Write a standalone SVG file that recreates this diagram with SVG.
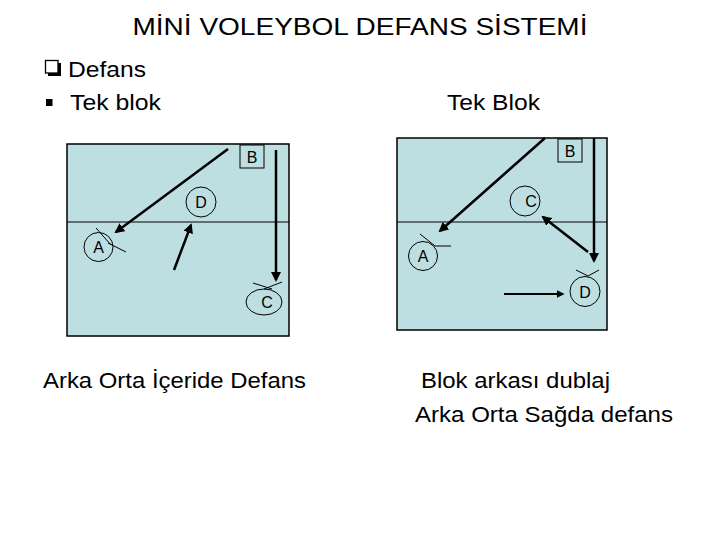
<svg xmlns="http://www.w3.org/2000/svg" width="720" height="540" viewBox="0 0 720 540">
<style>
text{font-family:"Liberation Sans",Arial,sans-serif;fill:#000}
.court{fill:#BEDFE2;stroke:#000;stroke-width:1.5}
.net{stroke:#000;stroke-width:1.2}
.pl{fill:none;stroke:#000;stroke-width:1}
.lbl{font-size:16px;text-anchor:middle}
.arr{stroke:#000;stroke-width:2.5;fill:none;marker-end:url(#ah)}
.thin{stroke:#000;stroke-width:1;fill:none}
</style>
<defs>
<marker id="ah" viewBox="0 0 10 10" refX="8" refY="5" markerWidth="4" markerHeight="4" orient="auto" markerUnits="strokeWidth">
<path d="M0,0 L10,5 L0,10 z" fill="#000"/>
</marker>
</defs>
<rect width="720" height="540" fill="#fff"/>
<text x="360" y="35" font-size="23" text-anchor="middle" textLength="455" lengthAdjust="spacingAndGlyphs">MİNİ VOLEYBOL DEFANS SİSTEMİ</text>
<rect x="48" y="63" width="13" height="13" fill="#000"/>
<rect x="45.5" y="60.5" width="12.5" height="12.5" fill="#fff" stroke="#000" stroke-width="1.3"/>
<text x="68" y="76.5" font-size="22" textLength="78" lengthAdjust="spacingAndGlyphs">Defans</text>
<rect x="46" y="99" width="6.5" height="7" fill="#000"/>
<text x="70" y="109.5" font-size="22" textLength="91" lengthAdjust="spacingAndGlyphs">Tek blok</text>
<text x="447" y="109.5" font-size="22" textLength="93" lengthAdjust="spacingAndGlyphs">Tek Blok</text>

<g id="court-left">
<rect class="court" x="67" y="144" width="222" height="192"/>
<line class="net" x1="67" y1="222" x2="289" y2="222"/>
</g>
<g id="left-B"><rect class="pl" x="240" y="145" width="24" height="23"/><text class="lbl" x="252" y="163">B</text></g>
<g id="left-D"><circle class="pl" cx="201" cy="202" r="15"/><text class="lbl" x="201" y="208">D</text></g>
<g id="left-A"><circle class="pl" cx="98.5" cy="247" r="14.5"/><text class="lbl" x="98.5" y="253">A</text>
<line class="thin" x1="96" y1="228" x2="111" y2="245"/><line class="thin" x1="108" y1="243" x2="126" y2="252"/></g>
<g id="left-C"><ellipse class="pl" cx="264" cy="302" rx="18" ry="13"/><text class="lbl" x="267" y="308">C</text>
<line class="thin" x1="253" y1="283" x2="272" y2="289"/><line class="thin" x1="264" y1="289" x2="282" y2="282"/></g>

<g id="court-right">
<rect class="court" x="397" y="138" width="210" height="192"/>
<line class="net" x1="397" y1="222" x2="607" y2="222"/>
</g>
<g id="right-B"><rect class="pl" x="558" y="139" width="24" height="23"/><text class="lbl" x="570" y="157">B</text></g>
<g id="right-C"><circle class="pl" cx="525" cy="201" r="15"/><text class="lbl" x="531" y="207">C</text></g>
<g id="right-A"><circle class="pl" cx="423" cy="256" r="14.5"/><text class="lbl" x="423" y="262">A</text>
<line class="thin" x1="420" y1="234" x2="435" y2="246"/><line class="thin" x1="435" y1="246" x2="451" y2="246"/></g>
<g id="right-D"><circle class="pl" cx="585" cy="291.5" r="15"/><text class="lbl" x="585" y="297.5">D</text>
<line class="thin" x1="576" y1="270" x2="588" y2="276"/><line class="thin" x1="588" y1="276" x2="599" y2="270"/></g>

<g id="connectors">
<line class="arr" x1="228" y1="149" x2="116" y2="232"/>
<line class="arr" x1="174" y1="270" x2="191" y2="225"/>
<line class="arr" x1="276" y1="150" x2="276" y2="280"/>
<line class="arr" x1="545" y1="138" x2="440" y2="231"/>
<line class="arr" x1="594" y1="138" x2="594" y2="261"/>
<line class="arr" x1="588" y1="252" x2="543" y2="217"/>
<line class="arr" x1="504" y1="294" x2="563" y2="294" style="stroke-width:2"/>
</g>

<text x="43" y="387.5" font-size="22" textLength="263" lengthAdjust="spacingAndGlyphs">Arka Orta İçeride Defans</text>
<text x="421" y="388" font-size="22" textLength="189" lengthAdjust="spacingAndGlyphs">Blok arkası dublaj</text>
<text x="415" y="421.5" font-size="22" textLength="258" lengthAdjust="spacingAndGlyphs">Arka Orta Sağda defans</text>
</svg>
